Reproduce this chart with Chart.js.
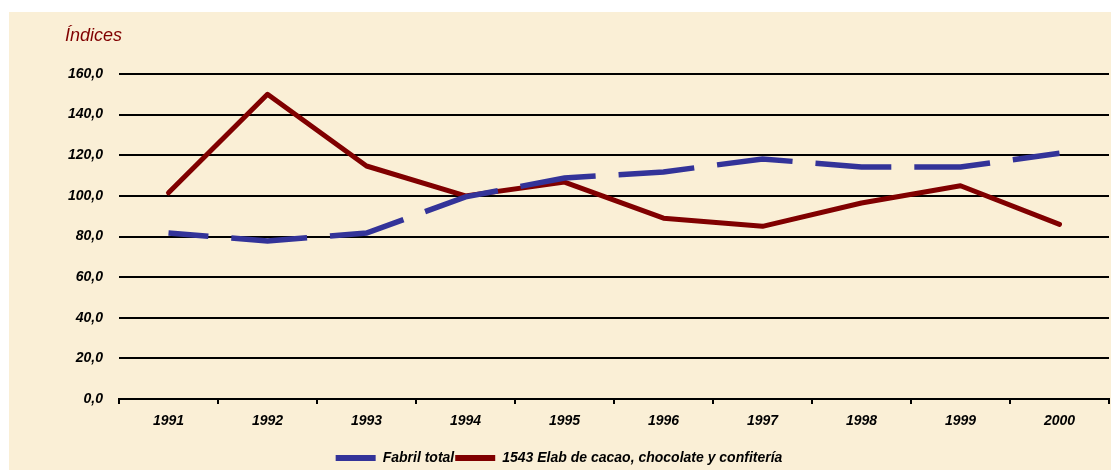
<!DOCTYPE html>
<html>
<head>
<meta charset="utf-8">
<script src="https://cdn.jsdelivr.net/npm/chart.js@4/dist/chart.umd.min.js"></script>
<style>
  html, body { margin: 0; padding: 0; background: #fff; overflow: hidden; }
  #wrap { position: absolute; left: 9px; top: 12px; width: 1102px; height: 463px; background: #faefd6; }
  #yTitle { position: absolute; left: 56px; top: 13px; line-height: 1; font: italic 18px "Liberation Sans", Arial, sans-serif; color: #800000; }
</style>
</head>
<body>
<div id="wrap">
  <div id="yTitle">Índices</div>
  <canvas id="chart" width="1102" height="463"></canvas>
</div>
<script>
  const years = ['1991', '1992', '1993', '1994', '1995', '1996', '1997', '1998', '1999', '2000'];
  const fabrilTotal = [81.7, 77.8, 81.7, 99.5, 108.8, 111.8, 118.2, 114.2, 114.2, 121.0];
  const cacaoChocolate = [101.5, 150.0, 114.7, 100.0, 106.8, 89.0, 85.0, 96.5, 105.0, 86.0];
  const yTicks = [0, 20, 40, 60, 80, 100, 120, 140, 160];

  const tickFont = { family: '"Liberation Sans", Arial, sans-serif', size: 14, weight: 'bold', style: 'italic' };

  // Chart
  const chart = new Chart(document.getElementById('chart'), {
    type: 'line',
    data: {
      labels: years,
      datasets: [{
        label: 'Fabril total',
        data: fabrilTotal,
        borderColor: '#333399',
        backgroundColor: '#333399',
        borderWidth: 5.5,
        borderDash: [76, 23],
        borderDashOffset: 36,
        borderCapStyle: 'butt',
        pointRadius: 0,
        tension: 0
      }, {
        label: '1543 Elab de cacao, chocolate y confitería',
        data: cacaoChocolate,
        borderColor: '#800000',
        backgroundColor: '#800000',
        borderWidth: 5,
        borderCapStyle: 'round',
        borderJoinStyle: 'round',
        pointRadius: 0,
        tension: 0
      }]
    },
    options: {
      responsive: false,
      animation: false,
      layout: { padding: { top: 62, right: 2, left: 0, bottom: 0 } },
      plugins: {
        tooltip: { enabled: false },
        legend: {
          position: 'bottom',
          labels: {
            color: '#000',
            font: tickFont,
            boxWidth: 40,
            boxHeight: 6,
            padding: 1,
            generateLabels: c => Chart.defaults.plugins.legend.labels.generateLabels(c).map(l => {
              l.lineDash = [];
              l.lineWidth = 0;
              return l;
            })
          }
        }
      },
      scales: {
        x: {
          offset: true,
          afterFit: axis => { axis.height = 51; },
          grid: { display: true, drawOnChartArea: false, offset: true, color: '#000', lineWidth: 2, tickLength: 5 },
          border: { display: true, color: '#000', width: 2 },
          ticks: { color: '#000', font: tickFont, padding: 9, maxRotation: 0 }
        },
        y: {
          min: 0,
          max: 160,
          afterBuildTicks: axis => { axis.ticks = yTicks.map(v => ({ value: v })); },
          afterFit: axis => { axis.width = 110; },
          grid: { color: '#000', lineWidth: 2, drawTicks: false },
          border: { display: false },
          ticks: {
            color: '#000',
            font: tickFont,
            padding: 16,
            callback: v => v.toFixed(1).replace('.', ',')
          }
        }
      }
    }
  });
</script>
</body>
</html>
